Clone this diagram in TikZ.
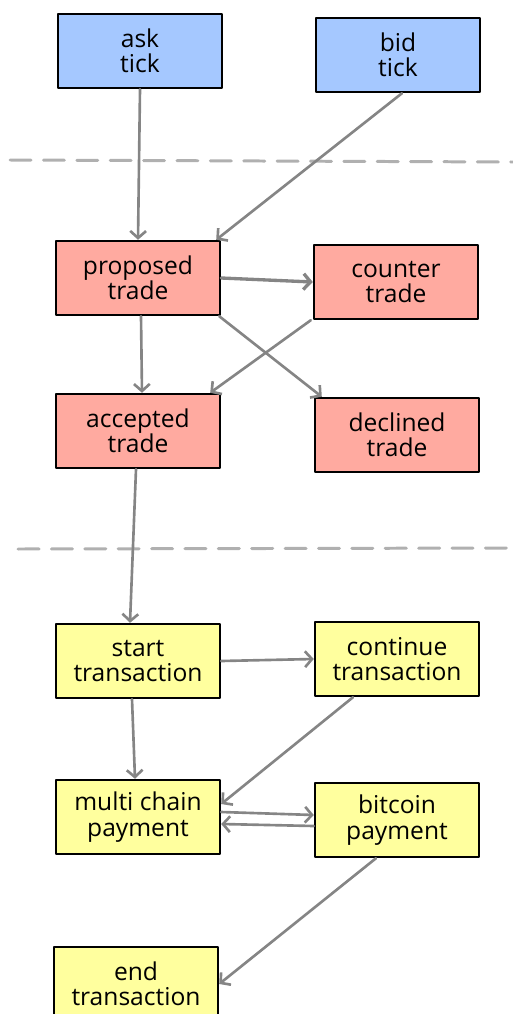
\documentclass[tikz,border=0pt]{standalone}
\usepackage{fontspec}
\setmainfont{Open Sans}
\usetikzlibrary{calc, positioning}
\usetikzlibrary{arrows.meta}

\definecolor{tickblue}{HTML}{A5C8FF}
\definecolor{tradered}{HTML}{FFAAA0}
\definecolor{txyellow}{HTML}{FFFF9E}
\definecolor{flowgray}{HTML}{858585}
\definecolor{sepgray}{HTML}{B0B0B0}

\tikzset{
  statebox/.style={draw=black, line width=1.4pt, minimum width=3.28cm, minimum height=1.48cm,
    align=center, inner sep=1pt, font=\fontsize{14}{14.5}\selectfont},
  tickbox/.style={statebox, fill=tickblue},
  tradebox/.style={statebox, fill=tradered},
  txbox/.style={statebox, fill=txyellow},
  flow/.style={draw=flowgray, line width=1.5pt, -{Straight Barb[length=4pt, width=9pt]}},
  separator/.style={draw=sepgray, line width=1.7pt, dash pattern=on 12pt off 7pt}
}

\begin{document}
\begin{tikzpicture}[x=0.02cm, y=-0.02cm, line join=round, line cap=round]
\useasboundingbox (0,0) rectangle (513,1014);

% Ticks on the order book
\node[tickbox] (asktick) at (140,51) {ask\\tick};
\node[tickbox] (bidtick) at (398,55) {bid\\tick};

% Trade states
\node[tradebox] (proposed) at (138,278) {proposed\\trade};
\node[tradebox] (counter) at (396,282) {counter\\trade};
\node[tradebox] (accepted) at (138,431) {accepted\\trade};
\node[tradebox] (declined) at (397,435) {declined\\trade};

% Transaction states
\node[txbox] (starttx) at (138,661) {start\\transaction};
\node[txbox] (continuetx) at (397,659) {continue\\transaction};
\node[txbox] (multipay) at (138,817) {multi chain\\payment};
\node[txbox] (btcpay) at (397,820) {bitcoin\\payment};
\node[txbox] (endtx) at (136,984) {end\\transaction};

% Dashed separators between the stages
\coordinate (sepAwest) at (10,160);
\coordinate (sepAeast) at (513,162);
\coordinate (sepBwest) at (18,549);
\coordinate (sepBeast) at (513,548);
\draw[separator] (sepAwest) -- (sepAeast);
\draw[separator] (sepBwest) -- (sepBeast);

% Ticks into a proposal
\draw[flow] (asktick.south) -- (proposed.north);
\draw[flow] ([xshift=0.08cm]bidtick.south) -- ([xshift=-0.1cm]proposed.north east);

% Negotiation
\draw[flow, line width=1.9pt] (proposed.east) -- (counter.west);
\draw[flow] ([xshift=0.06cm]proposed.south) -- ([xshift=0.08cm]accepted.north);
\draw[flow] ([xshift=-0.04cm]proposed.south east) -- ([xshift=0.16cm]declined.north west);
\draw[flow] ([xshift=-0.04cm]counter.south west) -- ([xshift=-0.22cm]accepted.north east);

% Accepted trade starts a transaction
\draw[flow] ([xshift=-0.04cm]accepted.south) -- ([xshift=-0.16cm]starttx.north);

% Payments
\draw[flow] (starttx.east) -- (continuetx.west);
\draw[flow] ([xshift=-0.12cm]starttx.south) -- ([xshift=-0.06cm]multipay.north);
\draw[flow] ([xshift=-0.88cm]continuetx.south) -- ([yshift=0.26cm]multipay.east);
\draw[flow] ([yshift=0.1cm]multipay.east) -- ([yshift=0.1cm]btcpay.west);
\draw[flow] ([yshift=-0.12cm]btcpay.west) -- ([yshift=-0.14cm]multipay.east);
\draw[flow] ([xshift=-0.42cm]btcpay.south) -- (endtx.east);
\end{tikzpicture}
\end{document}
